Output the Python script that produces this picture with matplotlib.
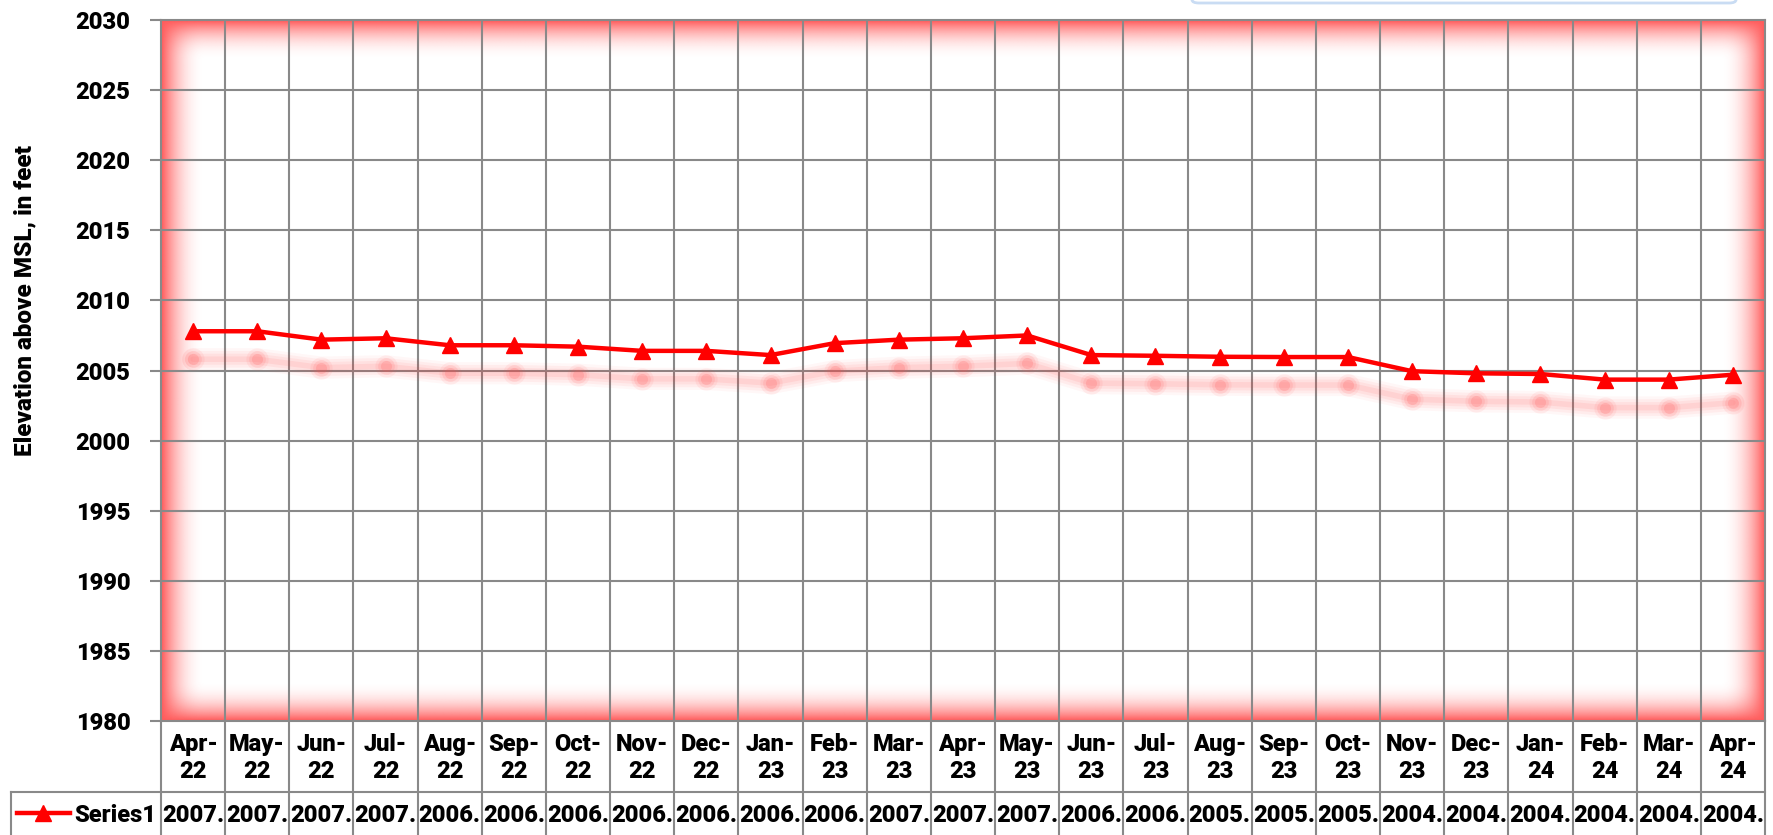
import matplotlib
matplotlib.use('Agg')
import matplotlib.pyplot as plt
import matplotlib.transforms as mtransforms
from matplotlib.lines import Line2D
from matplotlib.patches import FancyBboxPatch
import numpy as np

plt.rcParams['font.family'] = ['Roboto', 'DejaVu Sans']
wt = 'heavy'
plt.rcParams['font.weight'] = wt

months = ['Apr-22', 'May-22', 'Jun-22', 'Jul-22', 'Aug-22', 'Sep-22', 'Oct-22', 'Nov-22',
          'Dec-22', 'Jan-23', 'Feb-23', 'Mar-23', 'Apr-23', 'May-23', 'Jun-23', 'Jul-23',
          'Aug-23', 'Sep-23', 'Oct-23', 'Nov-23', 'Dec-23', 'Jan-24', 'Feb-24', 'Mar-24', 'Apr-24']
elev = [2007.8, 2007.8, 2007.2, 2007.3, 2006.8, 2006.8, 2006.7, 2006.4, 2006.4, 2006.1,
        2006.95, 2007.2, 2007.3, 2007.5, 2006.1, 2006.05, 2005.98, 2005.96, 2005.96,
        2004.95, 2004.8, 2004.75, 2004.35, 2004.35, 2004.7]
series_name = 'Series1'
ylabel = 'Elevation above MSL, in feet'

W, H = 1774, 835
fig = plt.figure(figsize=(W / 100, H / 100), dpi=100)
L, R, T, B = 161, 1765, 20, 721
ax = fig.add_axes([L / W, 1 - B / H, (R - L) / W, (B - T) / H])

n = len(months)
x = np.arange(n)
grid_c = '#898989'
fs = 17

ax.set_xlim(-0.5, n - 0.5)
ax.set_ylim(1980, 2030)
ax.set_yticks(np.arange(1980, 2031, 5))
ax.set_xticks([])
ax.tick_params(axis='y', length=8, width=1.5, color=grid_c, pad=14, labelsize=fs)
for lab in ax.get_yticklabels():
    lab.set_fontweight(wt)
for s in ax.spines.values():
    s.set_color(grid_c)
    s.set_linewidth(1.5)

# grid
for yv in np.arange(1985, 2030, 5):
    ax.axhline(yv, color=grid_c, lw=1.5, zorder=1)
for i in range(1, n):
    ax.axvline(i - 0.5, color=grid_c, lw=1.5, zorder=1)

# red inner glow of plot area
gw, gh = 1200, 520
px_w, px_h = R - L, B - T
xs = np.linspace(0, px_w, gw)
ys = np.linspace(0, px_h, gh)
XX, YY = np.meshgrid(xs, ys)
gx = np.clip(1 - np.minimum(XX, px_w - XX) / 44.0, 0, 1) ** 2.2
gy = np.clip(1 - np.minimum(YY, px_h - YY) / 40.0, 0, 1) ** 2.2
alpha = 1 - (1 - gx) * (1 - gy)
img = np.zeros((gh, gw, 4))
img[..., 0] = 1.0
img[..., 1] = 0.2
img[..., 2] = 0.2
img[..., 3] = alpha * 0.8
ax.imshow(img, extent=[0, 1, 0, 1], transform=ax.transAxes, aspect='auto', zorder=0,
          interpolation='bilinear')

# soft shadow of the series
shadow = mtransforms.offset_copy(ax.transData, fig=fig, x=0, y=-28, units='dots')
for lw, a in [(16, 0.035), (12, 0.05), (8, 0.06), (4, 0.08)]:
    ax.plot(x, elev, color='#ff3030', lw=lw, alpha=a, transform=shadow, zorder=2,
            solid_capstyle='round')
for ms, a in [(16, 0.08), (12, 0.12), (8, 0.18)]:
    ax.plot(x, elev, 'o', color='#ff5050', ms=ms, alpha=a, mec='none', transform=shadow, zorder=2)

ax.plot(x, elev, color='red', lw=3.2, marker='^', ms=12, mec='red', mfc='red', zorder=3,
        solid_joinstyle='round')

ax.set_ylabel(ylabel, fontsize=17.5, fontweight=wt)
ax.yaxis.set_label_coords(-0.078, 0.6)

# data table under the axis
bt = ax.get_xaxis_transform()
row1 = -(792 - B) / (B - T)
row2 = -(840 - B) / (B - T)
for i in range(n + 1):
    ax.add_line(Line2D([i - 0.5, i - 0.5], [0, row2], transform=bt, color=grid_c, lw=1.5,
                       clip_on=False))
ax.add_line(Line2D([-0.5, n - 0.5], [row1, row1], transform=bt, color=grid_c, lw=1.5,
                   clip_on=False))
ft = fig.transFigure
fig.add_artist(Line2D([11 / W, L / W], [(H - 792) / H, (H - 792) / H], transform=ft,
                      color=grid_c, lw=1.5))
fig.add_artist(Line2D([11 / W, 11 / W], [0, (H - 792) / H], transform=ft, color=grid_c, lw=1.5))

for i, (m, v) in enumerate(zip(months, elev)):
    ax.text(i, -(758 - B) / (B - T), m.replace('-', '-\n'), transform=bt, ha='center',
            va='center', fontsize=fs, fontweight=wt, linespacing=1.25)
    ax.text(i, -(815 - B) / (B - T), str(v)[:5], transform=bt, ha='center', va='center',
            fontsize=fs, fontweight=wt)

fig.add_artist(Line2D([17 / W, 70 / W], [(H - 813) / H] * 2, transform=ft, color='red', lw=3.2))
fig.add_artist(Line2D([43 / W], [(H - 813) / H], transform=ft, marker='^', ms=12, color='red'))
fig.text(74 / W, (H - 815) / H, series_name, ha='left', va='center', fontsize=fs,
         fontweight=wt)

# edge of title box cut at the top
fig.add_artist(FancyBboxPatch((1192 / W, (H - 3) / H), (1736 - 1192) / W, 0.05,
                              boxstyle='round,pad=0,rounding_size=0.004', transform=ft,
                              fc='white', ec='#c9dcf3', lw=2))

fig.savefig('out.png', dpi=100)
